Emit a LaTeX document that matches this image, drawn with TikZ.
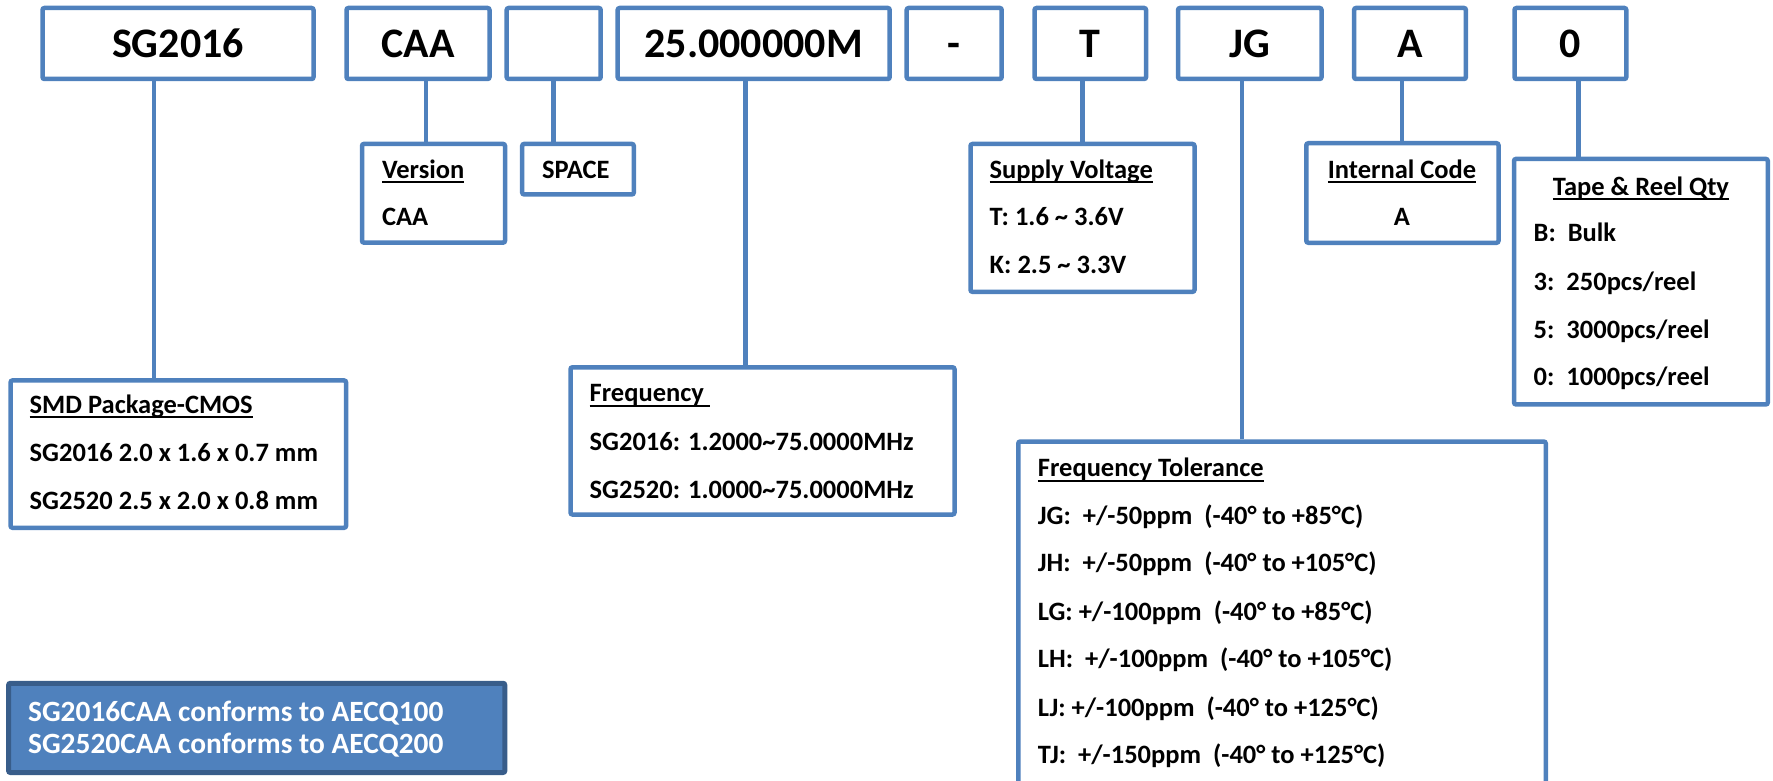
\documentclass[tikz,border=0pt]{standalone}
\usepackage{fontspec}
\setmainfont{Carlito}
\definecolor{ublue}{HTML}{4F81BD}
\definecolor{dblue}{HTML}{385D8A}
\newcommand\ulin[1]{\setbox0\hbox{#1}\rlap{\vrule height -1.5pt depth 2.5pt width \wd0}\box0}
\begin{document}
\begin{tikzpicture}[x=0.5pt,y=-0.5pt,
  box/.style={draw=ublue, line width=2.25pt, rounded corners=1pt, fill=white, inner sep=0pt},
  topbox/.style={box, minimum height=35.5pt, font=\fontsize{21pt}{25pt}\selectfont\bfseries, text height=14.5pt, text depth=0pt},
  txt/.style={inner sep=0pt, anchor=base west, font=\fontsize{13.25pt}{16pt}\selectfont\bfseries},
  ctxt/.style={txt, anchor=base},
  wtxt/.style={inner sep=0pt, anchor=base west, text=white, font=\fontsize{14.7pt}{17pt}\selectfont\bfseries},
  conn/.style={draw=ublue, line width=2.25pt}]
\useasboundingbox (0,0) rectangle (1773,781);

% top row
\node[topbox, minimum width=135.5pt] (sg) at (178,43.5) {SG2016};
\node[topbox, minimum width=71.5pt] (caa) at (418,43.5) {CAA};
\node[topbox, minimum width=47pt] (blank) at (553.7,43.5) {};
\node[topbox, minimum width=136pt] (mhz) at (753.7,43.5) {25.000000M};
\node[topbox, minimum width=47.5pt] (dash) at (954.2,43.5) {-};
\node[topbox, minimum width=55.75pt] (tv) at (1090.3,43.5) {T};
\node[topbox, minimum width=71.75pt] (jg) at (1249.8,43.5) {JG};
\node[topbox, minimum width=55.9pt] (a) at (1410,43.5) {A};
\node[topbox, minimum width=55.9pt] (zero) at (1570.4,43.5) {0};

% description boxes
\node[box, minimum width=71.5pt, minimum height=49.35pt] (ver) at (433.5,193.3) {};
\node[box, minimum width=55.8pt, minimum height=25.25pt] (spc) at (578,169.2) {};
\node[box, minimum width=112pt, minimum height=73.9pt] (sup) at (1082.5,217.9) {};
\node[box, minimum width=96.1pt, minimum height=49.75pt] (int) at (1402.4,193) {};
\node[box, minimum width=126.85pt, minimum height=122.75pt] (tape) at (1640.9,281.7) {};
\node[box, minimum width=167.75pt, minimum height=73.65pt] (smd) at (178.3,454.1) {};
\node[box, minimum width=192pt, minimum height=73.6pt] (frq) at (762.5,440.9) {};
\node[box, minimum width=263.75pt, minimum height=179.25pt] (tol) at (1282,620.8) {};
\node[box, draw=dblue, fill=ublue, line width=2.5pt, minimum width=248.15pt, minimum height=44.65pt] (aec) at (256.7,727.9) {};

% connectors
\coordinate (x1) at (154,0);
\coordinate (x2) at (426,0);
\coordinate (x3) at (553.5,0);
\coordinate (x4) at (745.5,0);
\coordinate (x5) at (1082.5,0);
\coordinate (x6) at (1242,0);
\coordinate (x7) at (1402,0);
\coordinate (x8) at (1578.5,0);
\draw[conn] (sg.south -| x1) -- (smd.north -| x1);
\draw[conn] (caa.south -| x2) -- (ver.north -| x2);
\draw[conn] (blank.south -| x3) -- (spc.north -| x3);
\draw[conn] (mhz.south -| x4) -- (frq.north -| x4);
\draw[conn] (tv.south -| x5) -- (sup.north -| x5);
\draw[conn] (jg.south -| x6) -- (tol.north -| x6);
\draw[conn] (a.south -| x7) -- (int.north -| x7);
\draw[conn] (zero.south -| x8) -- (tape.north -| x8);

% texts
\node[txt] (t1) at (381.7,178.3) {\ulin{Version}};
\node[txt] (t2) at (381.7,225) {CAA};
\node[txt] (t3) at (541.7,178.3) {SPACE};

\node[txt] (t4) at (989.3,178.3) {\ulin{Supply Voltage}};
\node[txt] (t5) at (989.3,225) {T: 1.6 \textasciitilde\ 3.6V};
\node[txt] (t6) at (989.3,273.3) {K: 2.5 \textasciitilde\ 3.3V};

\node[ctxt] (t7) at (1402,178.3) {\ulin{Internal Code}};
\node[ctxt] (t8) at (1402,225) {A};

\node[ctxt] (t9) at (1641,195) {\ulin{Tape \& Reel Qty}};
\node[txt] (t10) at (1533.3,241.7) {B:\ \ Bulk};
\node[txt] (t11) at (1533.3,290) {3:\ \ 250pcs/reel};
\node[txt] (t12) at (1533.3,338.3) {5:\ \ 3000pcs/reel};
\node[txt] (t13) at (1533.3,385.7) {0:\ \ 1000pcs/reel};

\node[txt] (t14) at (29.3,413) {\ulin{SMD Package-CMOS}};
\node[txt] (t15) at (29.3,461.7) {SG2016 2.0 x 1.6 x 0.7 mm};
\node[txt] (t16) at (29.3,509) {SG2520 2.5 x 2.0 x 0.8 mm};

\node[txt] (t17) at (589.3,401.7) {\ulin{Frequency\ }};
\node[txt] (t18) at (589.3,450) {SG2016: 1.2000\textasciitilde 75.0000MHz};
\node[txt] (t19) at (589.3,498.3) {SG2520: 1.0000\textasciitilde 75.0000MHz};

\node[txt] (t20) at (1037.5,476.7) {\ulin{Frequency Tolerance}};
\node[txt] (t21) at (1037.5,524.3) {JG:\ \ +/-50ppm\ \ (-40° to +85°C)};
\node[txt] (t22) at (1037.5,571.7) {JH:\ \ +/-50ppm\ \ (-40° to +105°C)};
\node[txt] (t23) at (1037.5,620) {LG: +/-100ppm\ \ (-40° to +85°C)};
\node[txt] (t24) at (1037.5,667.7) {LH:\ \ +/-100ppm\ \ (-40° to +105°C)};
\node[txt] (t25) at (1037.5,716) {LJ: +/-100ppm\ \ (-40° to +125°C)};
\node[txt] (t26) at (1037.5,763.3) {TJ:\ \ +/-150ppm\ \ (-40° to +125°C)};

\node[wtxt] (t27) at (27.7,721.7) {SG2016CAA conforms to AECQ100};
\node[wtxt] (t28) at (27.7,753.3) {SG2520CAA conforms to AECQ200};
\end{tikzpicture}
\end{document}
